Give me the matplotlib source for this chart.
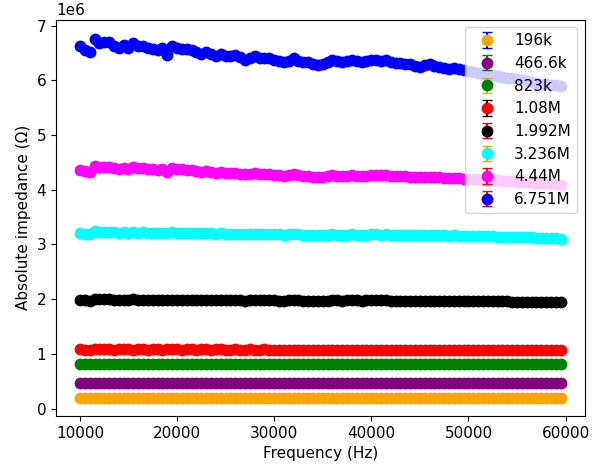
import numpy as np
from matplotlib import pyplot as plt

plt.rcParams['font.size'] = 11

# Frequency sweep (Hz)
freq = np.arange(10000, 60000, 500)

labels = ['196k', '466.6k', '823k', '1.08M', '1.992M', '3.236M', '4.44M', '6.751M']
colors = ['orange', 'purple', 'green', 'red', 'black', 'cyan', 'magenta', 'blue']
ecolors = ['blue', 'green', 'orange', 'black', 'red', 'orange', 'red', 'red']

# Absolute impedance in MOhm
z_196k = [0.196] * 100
z_466k = [0.466] * 100
z_823k = [0.823] * 100
z_108M = [1.080, 1.079, 1.078, 1.081, 1.080, 1.080, 1.080, 1.079, 1.080, 1.080,
          1.080, 1.079, 1.080, 1.080, 1.079, 1.080, 1.080, 1.079, 1.080, 1.080,
          1.080, 1.079, 1.080, 1.080, 1.079, 1.080, 1.080, 1.079, 1.080, 1.080,
          1.079, 1.079, 1.080, 1.079, 1.079, 1.080, 1.079, 1.079, 1.080, 1.079,
          1.079, 1.079, 1.078, 1.079, 1.079, 1.078, 1.079, 1.078, 1.078, 1.078,
          1.078, 1.078, 1.077, 1.078, 1.078, 1.077, 1.078, 1.077, 1.077, 1.077,
          1.077, 1.076, 1.077, 1.076, 1.076, 1.076, 1.076, 1.075, 1.076, 1.075,
          1.075, 1.075, 1.074, 1.075, 1.074, 1.074, 1.074, 1.073, 1.074, 1.073,
          1.073, 1.073, 1.072, 1.072, 1.072, 1.071, 1.072, 1.071, 1.071, 1.070,
          1.070, 1.070, 1.069, 1.069, 1.069, 1.068, 1.068, 1.068, 1.067, 1.067]
z_1992M = [1.985, 1.980, 1.975, 2.005, 1.995, 1.998, 1.996, 1.990, 1.985, 1.992,
           1.988, 1.995, 1.990, 1.992, 1.988, 1.986, 1.983, 1.990, 1.978, 1.993,
           1.990, 1.988, 1.986, 1.985, 1.983, 1.980, 1.984, 1.982, 1.980, 1.983,
           1.980, 1.979, 1.981, 1.978, 1.975, 1.977, 1.982, 1.979, 1.979, 1.978,
           1.976, 1.975, 1.974, 1.976, 1.979, 1.976, 1.975, 1.974, 1.972, 1.970,
           1.972, 1.974, 1.977, 1.976, 1.974, 1.976, 1.978, 1.976, 1.974, 1.976,
           1.978, 1.977, 1.976, 1.977, 1.974, 1.972, 1.973, 1.972, 1.971, 1.970,
           1.969, 1.971, 1.972, 1.970, 1.969, 1.968, 1.967, 1.968, 1.966, 1.965,
           1.964, 1.963, 1.962, 1.961, 1.960, 1.960, 1.959, 1.958, 1.957, 1.956,
           1.955, 1.955, 1.954, 1.953, 1.952, 1.951, 1.951, 1.950, 1.949, 1.948]
z_3236M = [3.200, 3.195, 3.190, 3.240, 3.225, 3.230, 3.228, 3.220, 3.215, 3.222,
           3.218, 3.225, 3.218, 3.220, 3.216, 3.214, 3.210, 3.215, 3.200, 3.222,
           3.218, 3.214, 3.212, 3.210, 3.205, 3.200, 3.204, 3.200, 3.196, 3.200,
           3.196, 3.194, 3.197, 3.192, 3.188, 3.190, 3.196, 3.192, 3.190, 3.188,
           3.185, 3.182, 3.180, 3.184, 3.188, 3.184, 3.180, 3.178, 3.175, 3.172,
           3.174, 3.178, 3.184, 3.180, 3.176, 3.180, 3.184, 3.180, 3.176, 3.180,
           3.184, 3.182, 3.180, 3.182, 3.176, 3.172, 3.174, 3.172, 3.170, 3.168,
           3.166, 3.170, 3.172, 3.168, 3.166, 3.164, 3.162, 3.164, 3.160, 3.158,
           3.156, 3.154, 3.152, 3.150, 3.148, 3.146, 3.145, 3.142, 3.140, 3.138,
           3.135, 3.132, 3.130, 3.127, 3.125, 3.122, 3.120, 3.115, 3.110, 3.105]
z_444M = [4.360, 4.345, 4.325, 4.440, 4.410, 4.420, 4.415, 4.390, 4.380, 4.400,
          4.385, 4.410, 4.390, 4.395, 4.380, 4.375, 4.365, 4.380, 4.330, 4.390,
          4.380, 4.370, 4.360, 4.355, 4.340, 4.330, 4.340, 4.325, 4.310, 4.320,
          4.305, 4.300, 4.310, 4.295, 4.280, 4.285, 4.305, 4.290, 4.285, 4.280,
          4.270, 4.265, 4.260, 4.265, 4.280, 4.265, 4.255, 4.250, 4.240, 4.230,
          4.240, 4.255, 4.270, 4.260, 4.250, 4.260, 4.270, 4.260, 4.250, 4.260,
          4.275, 4.270, 4.265, 4.270, 4.255, 4.245, 4.250, 4.245, 4.240, 4.235,
          4.225, 4.235, 4.240, 4.230, 4.225, 4.220, 4.215, 4.220, 4.210, 4.205,
          4.200, 4.195, 4.190, 4.185, 4.180, 4.175, 4.170, 4.165, 4.160, 4.155,
          4.150, 4.145, 4.140, 4.135, 4.130, 4.125, 4.120, 4.110, 4.100, 4.090]
z_6751M = [6.620, 6.560, 6.510, 6.750, 6.680, 6.700, 6.700, 6.630, 6.600, 6.650,
           6.600, 6.680, 6.620, 6.630, 6.600, 6.580, 6.550, 6.600, 6.460, 6.630,
           6.600, 6.580, 6.570, 6.550, 6.520, 6.480, 6.520, 6.480, 6.450, 6.480,
           6.450, 6.440, 6.460, 6.420, 6.380, 6.400, 6.450, 6.410, 6.410, 6.400,
           6.370, 6.350, 6.330, 6.360, 6.400, 6.360, 6.340, 6.330, 6.300, 6.280,
           6.300, 6.330, 6.370, 6.350, 6.330, 6.360, 6.380, 6.350, 6.330, 6.360,
           6.380, 6.370, 6.360, 6.380, 6.330, 6.310, 6.320, 6.300, 6.290, 6.270,
           6.250, 6.280, 6.290, 6.270, 6.250, 6.230, 6.210, 6.230, 6.200, 6.180,
           6.170, 6.150, 6.140, 6.120, 6.100, 6.090, 6.080, 6.060, 6.050, 6.040,
           6.020, 6.000, 5.990, 5.970, 5.960, 5.940, 5.930, 5.920, 5.910, 5.900]

# one error value per series (MOhm), too small to see behind the markers
errs = [0.004, 0.005, 0.006, 0.008, 0.01, 0.015, 0.02, 0.03]

series = [z_196k, z_466k, z_823k, z_108M, z_1992M, z_3236M, z_444M, z_6751M]

fig = plt.figure(figsize=(6.01, 4.68), dpi=100)
ax = fig.add_subplot(111)
for z, e, lab, c, ec in zip(series, errs, labels, colors, ecolors):
    ax.errorbar(freq, np.array(z) * 1e6, yerr=e * 1e6, fmt='o', color=c,
                ecolor=ec, capsize=3.5, markersize=7.5, label=lab)
ax.set_xlabel('Frequency (Hz)')
ax.set_ylabel('Absolute impedance (\u03a9)')
ax.legend(loc='upper right')
fig.subplots_adjust(left=0.093, right=0.973, top=0.958, bottom=0.111)
fig.savefig('out.png')
